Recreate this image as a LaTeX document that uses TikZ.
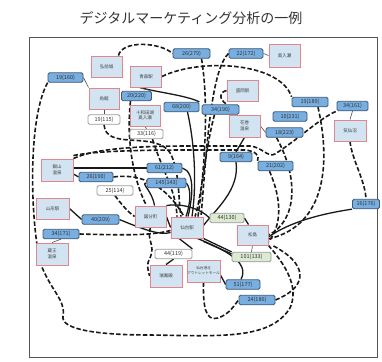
\documentclass[tikz,border=0pt]{standalone}
\usepackage{fontspec}
\setmainfont{Noto Sans CJK JP}
\definecolor{placefill}{HTML}{D2E3F1}
\definecolor{placeborder}{HTML}{E0868C}
\definecolor{labfill}{HTML}{78AEE0}
\definecolor{labborder}{HTML}{3E5A75}
\definecolor{glabfill}{HTML}{DCEAD2}
\definecolor{wborder}{HTML}{9A9A9A}
\definecolor{framec}{HTML}{555555}
\pgfdeclarelayer{back}
\pgfdeclarelayer{bg}
\pgfsetlayers{back,bg,main}
\begin{document}
\begin{tikzpicture}[x=1pt,y=-1pt,
  place/.style={draw=placeborder, fill=placefill, line width=0.9pt, minimum width=31pt, minimum height=21pt, inner sep=0pt, align=center, font=\fontsize{4.5}{5.5}\selectfont, text=black!75},
  lab/.style={draw=labborder, fill=labfill, rounded corners=1.5pt, line width=0.8pt, minimum height=9.5pt, inner sep=0pt, font=\fontsize{5.5}{6}\selectfont, text=black!80},
  wlab/.style={lab, draw=wborder, fill=white},
  glab/.style={lab, draw=wborder, fill=glabfill},
  dl/.style={draw=black!90, line width=1.6pt, dash pattern=on 4.5pt off 2.2pt},
  sl/.style={draw=black!90, line width=1.3pt},
  thin/.style={draw=black!70, line width=0.6pt}]
\useasboundingbox (0,0) rectangle (382,361);
\begin{pgfonlayer}{back}
\fill[white] (0,0) rectangle (382,361);
\end{pgfonlayer}
\node[font=\fontsize{14}{16}\selectfont, text=black!80] (title) at (191,18) {デジタルマーケティング分析の一例};
\draw[framec, line width=0.8pt] (29,37) rectangle (377,357);

% places
\node[place] (hirosaki) at (106.5,66.5) {弘前城};
\node[place] (aomori) at (146,76.5) {青森駅};
\node[place, minimum width=30pt] (kakunodate) at (104,98.5) {角館};
\node[place, minimum width=30pt] (towada) at (145,115.5) {十和田湖\\奥入瀬};
\node[place] (morioka) at (242.5,90.5) {盛岡駅};
\node[place, minimum height=22pt] (hanamaki) at (244.5,126) {花巻\\温泉};
\node[place, minimum height=23pt] (oirase) at (284.5,55.5) {奥入瀬};
\node[place, minimum width=32pt] (kesennuma) at (350,130.5) {気仙沼};
\node[place, minimum width=32pt, minimum height=22pt] (ginzan) at (57,170) {銀山\\温泉};
\node[place, minimum width=33pt] (yamagata) at (52.5,208.5) {山形駅};
\node[place, minimum width=32pt, minimum height=22pt] (zao) at (52,254) {蔵王\\温泉};
\node[place] (kokubun) at (150.5,216.5) {国分町};
\node[place, minimum width=32pt] (sendai) at (187,227.5) {仙台駅};
\node[place, minimum height=20pt] (matsushima) at (252.5,235) {松島};
\node[place, minimum width=32pt, minimum height=22pt] (zuihoden) at (166,276) {瑞鳳殿};
\node[place, minimum width=33pt, minimum height=22pt, font=\fontsize{3.6}{5}\selectfont] (outlet) at (203.5,271) {仙台港北\\アウトレットモール};

% labels
\node[lab, minimum width=35pt] (l19a) at (65.5,77.5) {19(160)};
\node[lab, minimum width=30pt] (l20a) at (136.5,96) {20(220)};
\node[wlab, minimum width=32pt] (l19b) at (104,119.5) {19(115)};
\node[wlab, minimum width=33pt] (l33a) at (146.5,134) {33(116)};
\node[lab, minimum width=37pt] (l26a) at (191.5,53.5) {26(279)};
\node[lab, minimum width=34pt] (l22a) at (246,53.5) {22(172)};
\node[lab, minimum width=35pt] (l68a) at (181.5,107) {68(200)};
\node[lab, minimum width=37pt] (l34a) at (220.5,109.5) {34(190)};
\node[lab, minimum width=36pt] (l19c) at (310,102) {19(189)};
\node[lab, minimum width=31pt] (l34b) at (352.5,106) {34(161)};
\node[lab, minimum width=34pt] (l10a) at (290,116.5) {10(231)};
\node[lab, minimum width=37pt] (l18a) at (284.5,132.5) {18(223)};
\node[lab, minimum width=34pt] (l26b) at (96,177) {26(190)};
\node[wlab, minimum width=36pt] (l25a) at (115,190.5) {25(114)};
\node[lab, minimum width=37pt] (l40a) at (100.5,219.5) {40(209)};
\node[lab, minimum width=36pt] (l34c) at (61,234) {34(171)};
\node[lab, minimum width=32pt] (l9a) at (236,157) {9(164)};
\node[lab, minimum width=35pt] (l61a) at (164.5,168) {61(212)};
\node[lab, minimum width=39pt] (l145a) at (166.5,183) {145(143)};
\node[glab, minimum width=34pt] (l44a) at (227,218) {44(130)};
\node[lab, minimum width=35pt] (l21a) at (275.5,166) {21(202)};
\node[lab, minimum width=27pt] (l16a) at (366,204) {16(176)};
\node[wlab, minimum width=37pt] (l44b) at (173.5,254) {44(119)};
\node[glab, minimum width=39pt] (l101a) at (251.5,257) {101(133)};
\node[lab, minimum width=34pt] (l51a) at (243,284.5) {51(177)};
\node[lab, minimum width=36pt] (l24a) at (257,300) {24(186)};

\begin{pgfonlayer}{bg}
% Hirosaki - 26(279) - Sendai
\draw[dl] ([xshift=-4]hirosaki.north east) .. controls (122,40) and (160,42) .. (l26a.west);
\draw[dl] ([xshift=10]l26a.south) .. controls (210,110) and (203,180) .. ([xshift=11]sendai.north);
% Oirase - 22(172) - Sendai
\draw[thin] (oirase.west) -- (l22a.east);
\draw[dl] (l22a.west) .. controls (210,70) and (206,160) .. ([xshift=14]sendai.north);
% Aomori - 19(189) - Matsushima
\draw[dl] (aomori.east) .. controls (200,58) and (280,62) .. (l19c.north west);
\draw[dl] ([xshift=8]l19c.south) .. controls (330,160) and (328,225) .. ([yshift=-4]matsushima.east);
% Aomori - 68(200) - Sendai
\draw[sl] ([xshift=-6]aomori.south) .. controls (155,92) and (185,95) .. (l68a.north east);
\draw[sl] ([xshift=6]l68a.south) .. controls (196,150) and (196,190) .. ([xshift=5]sendai.north);
% Morioka - 34(190) - Sendai
\draw[dl] (morioka.west) .. controls (220,92) and (218,98) .. ([xshift=6]l34a.north);
\draw[dl] ([xshift=-6]l34a.south) .. controls (205,150) and (202,195) .. ([xshift=8]sendai.north);
% Kakunodate - 19(115) - Sendai
\draw[thin] (kakunodate.south) -- (l19b.north);
\draw[dl] (l19b.south) .. controls (106,150) and (150,132) .. (168,150) .. controls (180,165) and (178,200) .. ([xshift=-6]sendai.north);
% Kakunodate - 19(160) - loop - Matsushima
\draw[thin] (kakunodate.north west) -- (l19a.east);
\draw[dl] (l19a.south west) .. controls (28,118) and (30,215) .. (40,262) .. controls (50,290) and (66,300) .. (63,316) .. controls (60,330) and (100,335) .. (150,335) .. controls (220,336) and (270,340) .. (290,308) .. controls (298,290) and (290,270) .. (matsushima.south east);
% Aomori - 20(220) - Kokubun
\draw[thin] ([xshift=-8]aomori.south) -- (l20a.north east);
\draw[dl] ([xshift=-6]l20a.south) .. controls (125,150) and (138,190) .. ([xshift=-4]kokubun.north);
% Towada - 33(116) - Sendai
\draw[thin] (towada.south) -- (l33a.north);
\draw[dl] ([xshift=6]l33a.south) .. controls (162,170) and (176,190) .. ([xshift=-10]sendai.north);
% Ginzan - 61(212) - Sendai
\draw[sl] ([yshift=2]ginzan.east) -- (l61a.west);
\draw[sl] (l61a.east) .. controls (196,172) and (192,200) .. ([xshift=1]sendai.north);
% Ginzan - 26(190) - Sendai
\draw[sl] ([yshift=-4]ginzan.east) -- (l26b.west);
\draw[dl] (l26b.east) .. controls (150,172) and (172,195) .. ([xshift=-3]sendai.north);
% Ginzan - 34(161) - Kesennuma
\draw[dl] (ginzan.north east) .. controls (100,146) and (160,146) .. (200,146) -- (250,146) .. controls (262,147) and (268,158) .. (275,154) .. controls (300,138) and (320,118) .. (l34b.south west);
\draw[thin] (l34b.south) -- (kesennuma.north);
% Ginzan - 21(202) - Matsushima
\draw[dl] ([yshift=3]ginzan.north east) .. controls (100,150) and (160,150) .. (200,150) -- (245,150) .. controls (255,151) and (260,155) .. (l21a.north west);
\draw[dl] ([xshift=-6]l21a.south) .. controls (282,200) and (282,225) .. ([yshift=-7]matsushima.east);
% Kesennuma - 16(176) - Matsushima
\draw[dl] (kesennuma.south) .. controls (352,160) and (365,180) .. (l16a.north);
\draw[sl] (l16a.south west) .. controls (320,214) and (290,222) .. ([yshift=-2]matsushima.east);
% Hanamaki - 18(223) - Matsushima
\draw[thin] (hanamaki.east) -- (l18a.west);
\draw[dl] ([xshift=-8]l18a.south) .. controls (300,180) and (296,222) .. (matsushima.east);
% Hanamaki - 9(164) - Sendai
\draw[sl] (hanamaki.south) -- (l9a.north);
\draw[sl] (l9a.south) .. controls (240,190) and (215,210) .. ([yshift=2]sendai.east);
% Kokubun - 44(130) - Matsushima
\draw[sl] (kokubun.north east) .. controls (180,203) and (200,208) .. (l44a.west);
\draw[sl] (l44a.east) -- ([xshift=-4]matsushima.north);
% Sendai - 101(133) - Matsushima
\draw[sl] ([yshift=-3]sendai.south east) -- ([yshift=-2]l101a.north west);
\draw[sl] (sendai.south east) -- (l101a.north west);
\draw[thin] (l101a.north) -- (matsushima.south);
% Sendai - 51(177) - Outlet
\draw[sl] ([xshift=-6]sendai.south east) .. controls (225,250) and (250,262) .. ([xshift=-2]l51a.north);
\draw[sl] (l51a.west) -- ([yshift=-4]outlet.east);
% Outlet - 24(186) - Matsushima
\draw[dl] (outlet.south) .. controls (203,305) and (205,322) .. (218,318) .. controls (230,314) and (235,304) .. (l24a.west);
\draw[dl] (l24a.east) .. controls (312,285) and (305,262) .. ([xshift=4]matsushima.south east);
% Sendai - 44(119) - Zuihoden
\draw[sl] ([xshift=-8]sendai.south) -- (l44b.north east);
\draw[sl] (l44b.south) -- (zuihoden.north);
% Kokubun - Zuihoden (dashed)
\draw[dl] (kokubun.south) .. controls (146,240) and (156,245) .. (150,258) .. controls (146,265) and (148,270) .. (zuihoden.west);
% Kokubun - Sendai
\draw[sl] (kokubun.east) -- (sendai.west);
% Kokubun - 145(143) - Sendai
\draw[sl] ([xshift=4]kokubun.north) .. controls (152,190) and (140,183) .. (l145a.west);
\draw[sl] (l145a.east) .. controls (192,190) and (190,205) .. ([xshift=-1]sendai.north);
% Yamagata - 40(209) - Sendai
\draw[sl] (yamagata.east) -- (l40a.west);
\draw[sl] (l40a.east) .. controls (140,228) and (160,236) .. ([yshift=-5]sendai.west);
% Zao - 34(171) - Sendai
\draw[thin] (zao.north) -- (l34c.south);
\draw[dl] (l34c.east) .. controls (120,235) and (150,236) .. ([yshift=-3]sendai.west);
% 25(114) - Kokubun
\draw[dl] (l25a.south) .. controls (122,205) and (128,212) .. (kokubun.west);
\end{pgfonlayer}
\end{tikzpicture}
\end{document}
